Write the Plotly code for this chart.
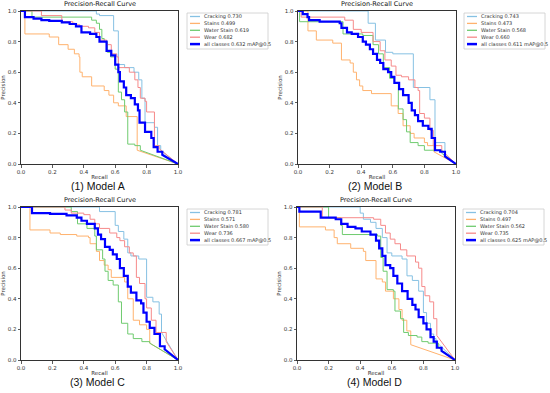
import plotly.graph_objects as go

W, H = 550, 393

# ---------------- data (recall, precision) step corners ----------------
classes = ["Cracking", "Stains", "Water Stain", "Wear", "all classes"]
models = ["(1) Model A", "(2) Model B", "(3) Model C", "(4) Model D"]
ap_A = [0.730, 0.499, 0.619, 0.682, 0.632]
ap_B = [0.743, 0.473, 0.568, 0.660, 0.611]
ap_C = [0.781, 0.571, 0.580, 0.736, 0.667]
ap_D = [0.704, 0.497, 0.562, 0.735, 0.625]

A_cracking = [(0, 1.0), (0.48, 0.98), (0.50, 0.97), (0.59, 0.87), (0.62, 0.65), (0.66, 0.63), (0.72, 0.60),
              (0.75, 0.55), (0.77, 0.43), (0.79, 0.27), (0.85, 0.24), (0.87, 0.12), (0.89, 0.09)]
A_stains = [(0, 1.0), (0.025, 0.85), (0.18, 0.83), (0.24, 0.78), (0.30, 0.75), (0.34, 0.72), (0.37, 0.70),
            (0.375, 0.60), (0.39, 0.57), (0.45, 0.51), (0.53, 0.48), (0.56, 0.45), (0.59, 0.40),
            (0.62, 0.38), (0.67, 0.31), (0.74, 0.09)]
A_water = [(0, 1.0), (0.07, 0.96), (0.45, 0.94), (0.48, 0.92), (0.50, 0.88), (0.515, 0.82), (0.53, 0.80),
           (0.55, 0.73), (0.57, 0.70), (0.60, 0.62), (0.62, 0.47), (0.64, 0.42), (0.66, 0.34),
           (0.68, 0.13), (0.725, 0.12), (0.76, 0.09)]
A_wear = [(0, 1.0), (0.13, 0.97), (0.26, 0.93), (0.33, 0.92), (0.345, 0.91), (0.375, 0.90), (0.43, 0.89),
          (0.47, 0.86), (0.50, 0.81), (0.545, 0.78), (0.575, 0.72), (0.61, 0.70), (0.62, 0.63),
          (0.69, 0.60), (0.725, 0.55), (0.745, 0.50), (0.76, 0.43), (0.79, 0.41), (0.80, 0.34),
          (0.85, 0.12), (0.88, 0.10)]
A_all = [(0, 1.0), (0.025, 0.96), (0.08, 0.95), (0.13, 0.94), (0.18, 0.935), (0.26, 0.925), (0.31, 0.915),
         (0.35, 0.90), (0.385, 0.86), (0.44, 0.85), (0.48, 0.83), (0.50, 0.80), (0.545, 0.74),
         (0.575, 0.71), (0.60, 0.65), (0.62, 0.60), (0.63, 0.54), (0.655, 0.50), (0.67, 0.45),
         (0.70, 0.43), (0.725, 0.39), (0.745, 0.35), (0.755, 0.27), (0.79, 0.21), (0.83, 0.17),
         (0.845, 0.11), (0.87, 0.08), (0.90, 0.06)]

B_cracking = [(0, 1.0), (0.444, 0.92), (0.49, 0.81), (0.554, 0.73), (0.60, 0.72), (0.73, 0.50),
              (0.835, 0.42), (0.867, 0.14), (0.93, 0.06)]
B_stains = [(0, 1.0), (0.063, 0.87), (0.116, 0.81), (0.22, 0.79), (0.275, 0.68), (0.33, 0.66), (0.35, 0.60),
            (0.37, 0.55), (0.39, 0.51), (0.41, 0.48), (0.465, 0.46), (0.59, 0.38), (0.634, 0.33),
            (0.665, 0.25), (0.71, 0.20), (0.735, 0.17), (0.80, 0.14), (0.82, 0.12), (0.86, 0.08)]
B_water = [(0, 1.0), (0.01, 0.93), (0.285, 0.85), (0.41, 0.84), (0.475, 0.78), (0.51, 0.72), (0.54, 0.63),
           (0.58, 0.56), (0.61, 0.53), (0.635, 0.36), (0.665, 0.29), (0.687, 0.21), (0.71, 0.14),
           (0.76, 0.12), (0.80, 0.09), (0.91, 0.07)]
B_wear = [(0, 1.0), (0.02, 0.96), (0.296, 0.94), (0.35, 0.88), (0.40, 0.86), (0.475, 0.80), (0.52, 0.74),
          (0.55, 0.68), (0.59, 0.64), (0.62, 0.58), (0.655, 0.57), (0.70, 0.55), (0.74, 0.50),
          (0.76, 0.48), (0.77, 0.33), (0.80, 0.30), (0.835, 0.22), (0.856, 0.12), (0.91, 0.09)]
B_all = [(0, 1.0), (0.03, 0.98), (0.06, 0.96), (0.07, 0.94), (0.137, 0.93), (0.264, 0.92), (0.275, 0.89),
         (0.31, 0.86), (0.34, 0.85), (0.38, 0.83), (0.41, 0.80), (0.43, 0.78), (0.455, 0.75),
         (0.475, 0.72), (0.50, 0.68), (0.52, 0.66), (0.54, 0.62), (0.57, 0.60), (0.59, 0.57),
         (0.61, 0.53), (0.64, 0.49), (0.665, 0.45), (0.70, 0.40), (0.72, 0.35), (0.74, 0.32),
         (0.76, 0.28), (0.79, 0.25), (0.825, 0.23), (0.846, 0.17), (0.867, 0.09), (0.90, 0.08),
         (0.93, 0.05)]

C_cracking = [(0, 1.0), (0.50, 0.97), (0.60, 0.88), (0.62, 0.84), (0.655, 0.79), (0.68, 0.70), (0.70, 0.68),
              (0.75, 0.66), (0.80, 0.41), (0.84, 0.38), (0.88, 0.30), (0.895, 0.18)]
C_stains = [(0, 1.0), (0.057, 0.85), (0.185, 0.83), (0.25, 0.82), (0.355, 0.81), (0.43, 0.80), (0.44, 0.76),
            (0.48, 0.71), (0.50, 0.65), (0.53, 0.62), (0.555, 0.59), (0.575, 0.54), (0.66, 0.51),
            (0.68, 0.40), (0.715, 0.26), (0.755, 0.23), (0.80, 0.20), (0.82, 0.11)]
C_water = [(0, 1.0), (0.32, 0.97), (0.36, 0.89), (0.42, 0.86), (0.47, 0.81), (0.48, 0.72), (0.52, 0.66),
           (0.535, 0.58), (0.555, 0.52), (0.587, 0.49), (0.62, 0.38), (0.64, 0.24), (0.68, 0.17),
           (0.715, 0.14), (0.77, 0.12), (0.82, 0.11)]
C_wear = [(0, 1.0), (0.28, 0.98), (0.32, 0.96), (0.40, 0.95), (0.44, 0.92), (0.47, 0.89), (0.50, 0.86),
          (0.565, 0.83), (0.61, 0.80), (0.63, 0.78), (0.66, 0.74), (0.69, 0.70), (0.715, 0.68),
          (0.735, 0.54), (0.755, 0.50), (0.79, 0.40), (0.80, 0.34), (0.83, 0.26), (0.86, 0.18),
          (0.925, 0.12)]
C_all = [(0, 1.0), (0.07, 0.96), (0.185, 0.955), (0.29, 0.945), (0.355, 0.93), (0.385, 0.91), (0.42, 0.89),
         (0.47, 0.86), (0.49, 0.82), (0.51, 0.79), (0.535, 0.74), (0.565, 0.72), (0.585, 0.69),
         (0.61, 0.66), (0.63, 0.60), (0.655, 0.55), (0.68, 0.48), (0.70, 0.44), (0.735, 0.39),
         (0.765, 0.37), (0.78, 0.31), (0.80, 0.25), (0.82, 0.21), (0.85, 0.17), (0.885, 0.09),
         (0.915, 0.07)]

D_cracking = [(0, 1.0), (0.40, 0.96), (0.42, 0.92), (0.465, 0.90), (0.50, 0.86), (0.54, 0.80), (0.57, 0.70),
              (0.60, 0.68), (0.665, 0.66), (0.696, 0.55), (0.73, 0.52), (0.77, 0.45), (0.80, 0.31),
              (0.82, 0.24), (0.845, 0.17), (0.865, 0.14), (0.88, 0.12)]
D_stains = [(0, 1.0), (0.015, 0.87), (0.18, 0.85), (0.235, 0.80), (0.255, 0.76), (0.34, 0.73), (0.42, 0.71),
            (0.435, 0.65), (0.50, 0.53), (0.54, 0.51), (0.56, 0.45), (0.61, 0.40), (0.645, 0.33),
            (0.665, 0.26), (0.695, 0.19), (0.72, 0.10)]
D_water = [(0, 1.0), (0.20, 0.93), (0.277, 0.88), (0.287, 0.82), (0.51, 0.81), (0.53, 0.67), (0.545, 0.58),
           (0.57, 0.46), (0.61, 0.45), (0.62, 0.32), (0.655, 0.27), (0.675, 0.18), (0.705, 0.16),
           (0.76, 0.15), (0.79, 0.12), (0.83, 0.11), (0.895, 0.08)]
D_wear = [(0, 1.0), (0.16, 0.93), (0.485, 0.92), (0.53, 0.88), (0.56, 0.83), (0.59, 0.79), (0.62, 0.76),
          (0.655, 0.72), (0.695, 0.68), (0.75, 0.64), (0.77, 0.60), (0.79, 0.48), (0.81, 0.42),
          (0.84, 0.38), (0.865, 0.27), (0.885, 0.16)]
D_all = [(0, 1.0), (0.015, 0.97), (0.15, 0.93), (0.245, 0.92), (0.28, 0.89), (0.32, 0.87), (0.37, 0.86),
         (0.41, 0.84), (0.465, 0.82), (0.50, 0.78), (0.52, 0.73), (0.54, 0.68), (0.56, 0.62),
         (0.59, 0.60), (0.61, 0.55), (0.635, 0.50), (0.665, 0.45), (0.70, 0.40), (0.73, 0.36),
         (0.75, 0.33), (0.77, 0.28), (0.80, 0.24), (0.82, 0.20), (0.845, 0.15), (0.865, 0.12),
         (0.885, 0.08), (0.915, 0.06)]

curves = [
    [A_cracking, A_stains, A_water, A_wear, A_all],
    [B_cracking, B_stains, B_water, B_wear, B_all],
    [C_cracking, C_stains, C_water, C_wear, C_all],
    [D_cracking, D_stains, D_water, D_wear, D_all],
]
aps = [ap_A, ap_B, ap_C, ap_D]
tick_vals = [0.0, 0.2, 0.4, 0.6, 0.8, 1.0]
tick_text = ["0.0", "0.2", "0.4", "0.6", "0.8", "1.0"]

# ---------------- styling ----------------
colors = ["#86c1e3", "#ffb26e", "#6fcb6f", "#f68a8a", "#0000ff"]
widths = [1.0, 1.0, 1.0, 1.0, 2.2]
FONT = "DejaVu Sans"

# plot boxes in pixels: (left, top, right, bottom)
boxes = [(21, 11, 178, 164), (298, 11, 456, 164), (21, 207, 178, 360), (297, 207, 455, 360)]
legend_left = [187, 464, 187, 463]


def px(x):
    return x / W


def py(y):
    return 1 - y / H


def step_path(pts):
    xs, ys = [pts[0][0]], [pts[0][1]]
    for i in range(1, len(pts)):
        xs += [pts[i][0], pts[i][0]]
        ys += [pts[i - 1][1], pts[i][1]]
    xs.append(1.0)
    ys.append(0.0)
    return xs, ys


fig = go.Figure()
layout = dict(
    width=W, height=H, margin=dict(l=0, r=0, t=0, b=0, autoexpand=False),
    paper_bgcolor="white", plot_bgcolor="white", showlegend=False,
    font=dict(family=FONT, color="#222"),
)
shapes, annotations = [], []

for k in range(4):
    sfx = "" if k == 0 else str(k + 1)
    l, t, r, b = boxes[k]
    for j in range(5):
        xs, ys = step_path(curves[k][j])
        fig.add_trace(go.Scatter(
            x=xs, y=ys, mode="lines", xaxis="x" + sfx, yaxis="y" + sfx,
            line=dict(color=colors[j], width=widths[j]), hoverinfo="skip"))
    axcommon = dict(range=[0, 1], showgrid=False, zeroline=False, showline=True, mirror=True,
                    linecolor="#333", linewidth=1, ticks="outside", ticklen=2.5, tickwidth=0.8,
                    tickcolor="#333", tickvals=tick_vals, ticktext=tick_text, automargin=False,
                    tickfont=dict(size=5.5, family=FONT, color="#333"))
    layout["xaxis" + sfx] = dict(axcommon, domain=[px(l), px(r)], anchor="y" + sfx,
                                 title=dict(text="Recall", font=dict(size=5.5, family=FONT, color="#333"), standoff=1))
    layout["yaxis" + sfx] = dict(axcommon, domain=[py(b), py(t)], anchor="x" + sfx,
                                 title=dict(text="Precision", font=dict(size=5.5, family=FONT, color="#333"), standoff=1))
    # subplot title
    annotations.append(dict(text="Precision-Recall Curve", x=px((l + r) / 2), y=py(t - 1),
                            xref="paper", yref="paper", xanchor="center", yanchor="bottom",
                            showarrow=False, font=dict(size=6.5, family=FONT, color="#111")))
    # caption
    annotations.append(dict(text=models[k], x=px((l + r) / 2 - 2), y=py(b + 22),
                            xref="paper", yref="paper", xanchor="center", yanchor="middle",
                            showarrow=False, font=dict(size=10.5, family="Liberation Sans", color="#111")))
    # legend (drawn manually)
    lx = legend_left[k]
    shapes.append(dict(type="rect", xref="paper", yref="paper", x0=px(lx), x1=px(lx + 81),
                       y0=py(t + 38), y1=py(t + 2), line=dict(color="#cccccc", width=0.8),
                       fillcolor="rgba(255,255,255,0.8)", layer="above"))
    for j in range(5):
        yy = t + 5.5 + j * 6.9
        shapes.append(dict(type="line", xref="paper", yref="paper", x0=px(lx + 3), x1=px(lx + 13),
                           y0=py(yy), y1=py(yy), line=dict(color=colors[j], width=widths[j] + 0.3),
                           layer="above"))
        label = f"{classes[j]} {aps[k][j]:.3f}" + (" mAP@0.5" if j == 4 else "")
        annotations.append(dict(text=label, x=px(lx + 15), y=py(yy), xref="paper", yref="paper",
                                xanchor="left", yanchor="middle", showarrow=False,
                                font=dict(size=5, family=FONT, color="#333")))

layout["shapes"] = shapes
layout["annotations"] = annotations
fig.update_layout(**layout)
fig.write_html("out.html", config={"displayModeBar": False, "staticPlot": True},
               post_script="document.body.style.margin='0';document.body.style.overflow='hidden';")
